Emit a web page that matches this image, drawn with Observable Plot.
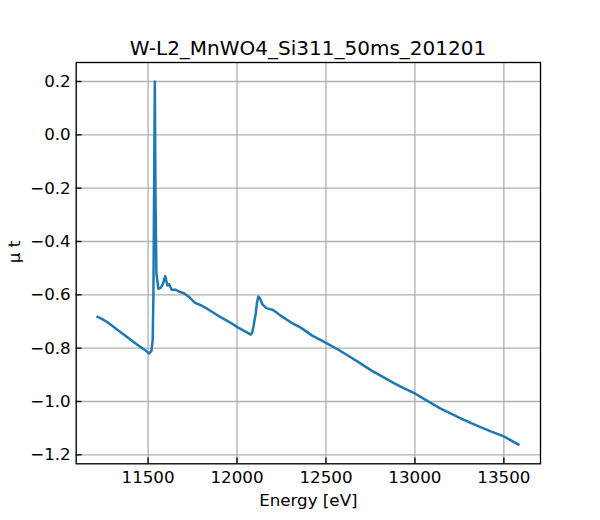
<!DOCTYPE html>
<html>
<head>
<meta charset="utf-8">
<script src="https://cdn.jsdelivr.net/npm/d3@7"></script>
<script src="https://cdn.jsdelivr.net/npm/@observablehq/plot@0.6"></script>
<style>
  html, body { margin: 0; padding: 0; background: #fff; }
  #wrap { position: relative; width: 600px; height: 520px; font-family: "DejaVu Sans", sans-serif; }
  #title { position: absolute; left: 76px; width: 464px; top: 38px; text-align: center;
           font-size: 20px; line-height: 1; color: #000; white-space: nowrap; }
  #chart { position: absolute; left: 0; top: 0; }
</style>
</head>
<body>
<div id="wrap">
  <div id="chart"></div>
  <div id="title">W-L2_MnWO4_Si311_50ms_201201</div>
</div>
<script>
const titleText = "W-L2_MnWO4_Si311_50ms_201201";
const xLabel = "Energy [eV]";
const yLabel = "μ t";

const energy = [11210, 11240, 11272, 11320, 11380, 11440, 11490, 11506, 11519, 11526,
  11530, 11534, 11538, 11542, 11547, 11558, 11571, 11584, 11596, 11609,
  11618, 11633, 11656, 11674, 11702, 11730, 11764, 11800, 11834, 11870,
  11908, 11960, 12002, 12040, 12077, 12085, 12092, 12105, 12112, 12120,
  12130, 12143, 12165, 12199, 12220, 12245, 12302, 12358, 12423, 12500,
  12570, 12639, 12700, 12761, 12820, 12882, 12940, 13002, 13070, 13144,
  13200, 13257, 13310, 13369, 13430, 13500, 13588];
const mu = [-0.681, -0.690, -0.703, -0.727, -0.757, -0.787, -0.811, -0.820, -0.810, -0.770,
  -0.600, -0.200, 0.200, -0.250, -0.520, -0.578, -0.574, -0.559, -0.530, -0.565,
  -0.560, -0.581, -0.581, -0.588, -0.594, -0.608, -0.630, -0.640, -0.653, -0.668,
  -0.684, -0.703, -0.721, -0.735, -0.749, -0.742, -0.721, -0.671, -0.630, -0.606,
  -0.615, -0.636, -0.650, -0.656, -0.665, -0.678, -0.703, -0.723, -0.753, -0.780,
  -0.806, -0.834, -0.860, -0.886, -0.908, -0.931, -0.951, -0.971, -0.998, -1.027,
  -1.045, -1.063, -1.079, -1.096, -1.113, -1.131, -1.164];

const xTicks = [11500, 12000, 12500, 13000, 13500];
const yTicks = [-1.2, -1.0, -0.8, -0.6, -0.4, -0.2, 0.0, 0.2];

const data = energy.map((e, i) => ({e, m: mu[i]}));

const W = 600, H = 520;
const mL = 75.7, mR = 60, mT = 62, mB = 56.7;
const plotW = W - mL - mR, plotH = H - mT - mB;
const tickLen = 5.8;
const fs = 16.7;
const fmtY = d => d.toFixed(1).replace("-", "\u2212");

const chart = Plot.plot({
  width: W,
  height: H,
  marginLeft: mL,
  marginRight: mR,
  marginTop: mT,
  marginBottom: mB,
  style: {fontFamily: "DejaVu Sans, sans-serif", fontSize: fs + "px", color: "#000", background: "#fff"},
  x: {domain: [11096, 13706], ticks: xTicks, tickFormat: d => String(d)},
  y: {domain: [-1.2337, 0.2712], ticks: yTicks, tickFormat: fmtY},
  marks: [
    Plot.gridX(xTicks, {stroke: "#b0b0b0", strokeOpacity: 1, strokeWidth: 1.33}),
    Plot.gridY(yTicks, {stroke: "#b0b0b0", strokeOpacity: 1, strokeWidth: 1.33}),
    Plot.axisX(xTicks, {tickSize: 0, tickPadding: 7.5, tickFormat: d => String(d), label: null, fontSize: fs}),
    Plot.axisY(yTicks, {tickSize: 0, tickPadding: 5.5, tickFormat: fmtY, label: null, fontSize: fs}),
    Plot.ruleX(xTicks, {x: d => d, insetTop: plotH - tickLen, stroke: "#000", strokeWidth: 1.33}),
    Plot.ruleY(yTicks, {y: d => d, insetRight: plotW - tickLen, stroke: "#000", strokeWidth: 1.33}),
    Plot.line(data, {x: "e", y: "m", stroke: "#1f77b4", strokeWidth: 2.5, strokeLinejoin: "round", strokeLinecap: "butt"}),
    Plot.frame({stroke: "#000", strokeWidth: 1.33}),
    Plot.text([xLabel], {text: d => d, frameAnchor: "bottom", dy: 36.4, lineAnchor: "middle", fontSize: fs, fill: "#000"}),
    Plot.text([yLabel], {text: d => d, frameAnchor: "left", dx: -62, rotate: -90, lineAnchor: "middle", fontSize: fs, fill: "#000"})
  ]
});
document.getElementById("chart").appendChild(chart);
document.getElementById("title").textContent = titleText;
</script>
</body>
</html>
